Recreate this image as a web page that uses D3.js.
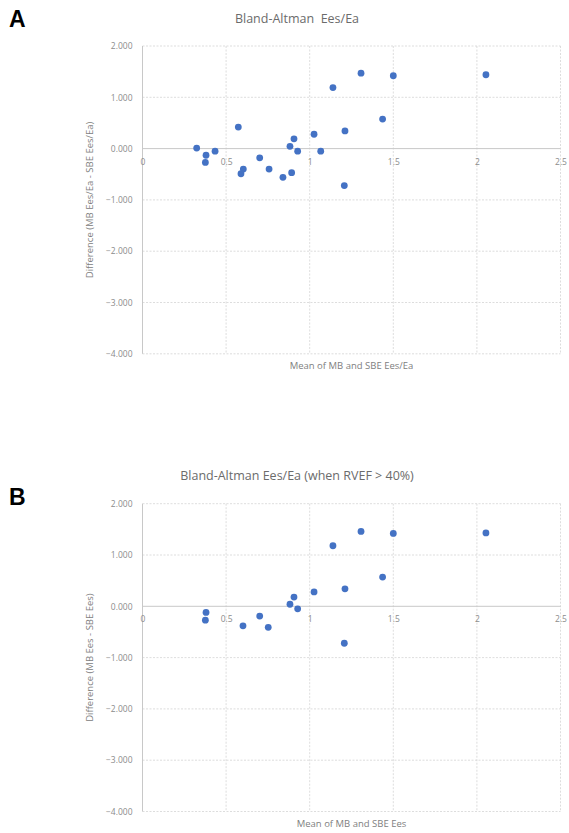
<!DOCTYPE html>
<html>
<head>
<meta charset="utf-8">
<script src="https://cdn.jsdelivr.net/npm/d3@7"></script>
<style>
  body { margin: 0; background: #fff; }
  svg { display: block; }
  .tick text { font-family: "Open Sans", sans-serif; font-size: 8.5px; fill: #8c8c8c; }
  .title { font-family: "Open Sans", sans-serif; font-size: 12.5px; fill: #6b6b6b; }
  .axis-title { font-family: "Open Sans", sans-serif; font-size: 9.5px; fill: #808080; }
  .panel { font-family: "Liberation Sans", Arial, sans-serif; font-size: 23px; font-weight: bold; fill: #000; }
</style>
</head>
<body>
<svg id="chart" width="569" height="833"></svg>
<script>
// Panel A: all patients
var meanA = [0.324, 0.380, 0.376, 0.434, 0.573, 0.603, 0.589, 0.701, 0.757, 0.840, 0.882,
             0.892, 0.906, 0.928, 1.026, 1.066, 1.139, 1.211, 1.207, 1.307, 1.500, 1.436, 2.054];
var diffA = [0.01, -0.13, -0.27, -0.05, 0.42, -0.40, -0.49, -0.18, -0.40, -0.56, 0.045,
             -0.47, 0.19, -0.05, 0.28, -0.05, 1.19, 0.345, -0.72, 1.47, 1.42, 0.575, 1.44];

// Panel B: RVEF > 40%
var meanB = [0.380, 0.376, 0.601, 0.701, 0.752, 0.882, 0.906, 0.928, 1.026, 1.139,
             1.211, 1.207, 1.307, 1.500, 1.436, 2.054];
var diffB = [-0.12, -0.27, -0.38, -0.19, -0.41, 0.04, 0.18, -0.05, 0.28, 1.18,
             0.34, -0.72, 1.46, 1.42, 0.57, 1.43];

var xTicks = [0, 0.5, 1, 1.5, 2, 2.5];
var yTicks = [2, 1, 0, -1, -2, -3, -4];

var svg = d3.select("#chart");

function panel(opts) {
    var x = d3.scaleLinear().domain([0, 2.5]).range([142.5, 560.5]),
        y = d3.scaleLinear().domain([2, -4]).range([opts.top, opts.top + 307.8]);

    var g = svg.append("g");

    // gridlines (dashed)
    g.selectAll(".hgrid")
        .data(yTicks.filter(function(d) { return d !== 0; }))
        .enter().append("line")
        .attr("x1", x(0)).attr("x2", x(2.5))
        .attr("y1", function(d) { return y(d); })
        .attr("y2", function(d) { return y(d); })
        .attr("stroke", "#d4d4d4").attr("stroke-width", 0.8)
        .attr("stroke-dasharray", "2,1.5");
    g.selectAll(".vgrid")
        .data(xTicks.filter(function(d) { return d !== 0; }))
        .enter().append("line")
        .attr("y1", y(2)).attr("y2", y(-4))
        .attr("x1", function(d) { return x(d); })
        .attr("x2", function(d) { return x(d); })
        .attr("stroke", "#d4d4d4").attr("stroke-width", 0.8)
        .attr("stroke-dasharray", "2,1.5");

    // solid axis lines through zero
    g.append("line")
        .attr("x1", x(0)).attr("x2", x(0)).attr("y1", y(2)).attr("y2", y(-4))
        .attr("stroke", "#c8c8c8").attr("stroke-width", 1);
    g.append("line")
        .attr("x1", x(0)).attr("x2", x(2.5)).attr("y1", y(0)).attr("y2", y(0))
        .attr("stroke", "#c8c8c8").attr("stroke-width", 1);

    // y axis labels
    var yAxis = d3.axisLeft(y).tickValues(yTicks).tickSize(0).tickPadding(10)
        .tickFormat(d3.format(".3f"));
    g.append("g")
        .attr("transform", "translate(" + x(0) + ",0)")
        .call(yAxis)
        .call(function(s) { s.select(".domain").remove(); });

    // x axis labels sit just under the zero line
    var xAxis = d3.axisBottom(x).tickValues(xTicks).tickSize(0).tickPadding(10)
        .tickFormat(function(d) { return String(d); });
    g.append("g")
        .attr("transform", "translate(0," + y(0) + ")")
        .call(xAxis)
        .call(function(s) { s.select(".domain").remove(); });

    // points
    g.selectAll(".dot")
        .data(opts.mean.map(function(m, i) { return {m: m, d: opts.diff[i]}; }))
        .enter().append("circle")
        .attr("class", "dot")
        .attr("cx", function(d) { return x(d.m); })
        .attr("cy", function(d) { return y(d.d); })
        .attr("r", 3.4)
        .attr("fill", "#4472c4");

    // titles
    g.append("text").attr("class", "title")
        .attr("x", 297).attr("y", opts.titleY)
        .attr("text-anchor", "middle")
        .attr("xml:space", "preserve")
        .text(opts.title);
    g.append("text").attr("class", "axis-title")
        .attr("x", (x(0) + x(2.5)) / 2).attr("y", y(-4) + 15)
        .attr("text-anchor", "middle")
        .text(opts.xTitle);
    g.append("text").attr("class", "axis-title")
        .attr("transform", "translate(93," + (y(2) + y(-4)) / 2 + ") rotate(-90)")
        .attr("text-anchor", "middle")
        .text(opts.yTitle);
    g.append("text").attr("class", "panel")
        .attr("x", 9).attr("y", opts.letterY)
        .text(opts.letter);
}

panel({
    top: 46, mean: meanA, diff: diffA,
    title: "Bland-Altman  Ees/Ea", titleY: 23,
    xTitle: "Mean of MB and SBE Ees/Ea",
    yTitle: "Difference (MB Ees/Ea - SBE Ees/Ea)",
    letter: "A", letterY: 27
});
panel({
    top: 503.7, mean: meanB, diff: diffB,
    title: "Bland-Altman Ees/Ea (when RVEF > 40%)", titleY: 480,
    xTitle: "Mean of MB and SBE Ees",
    yTitle: "Difference (MB Ees - SBE Ees)",
    letter: "B", letterY: 505
});
</script>
</body>
</html>
